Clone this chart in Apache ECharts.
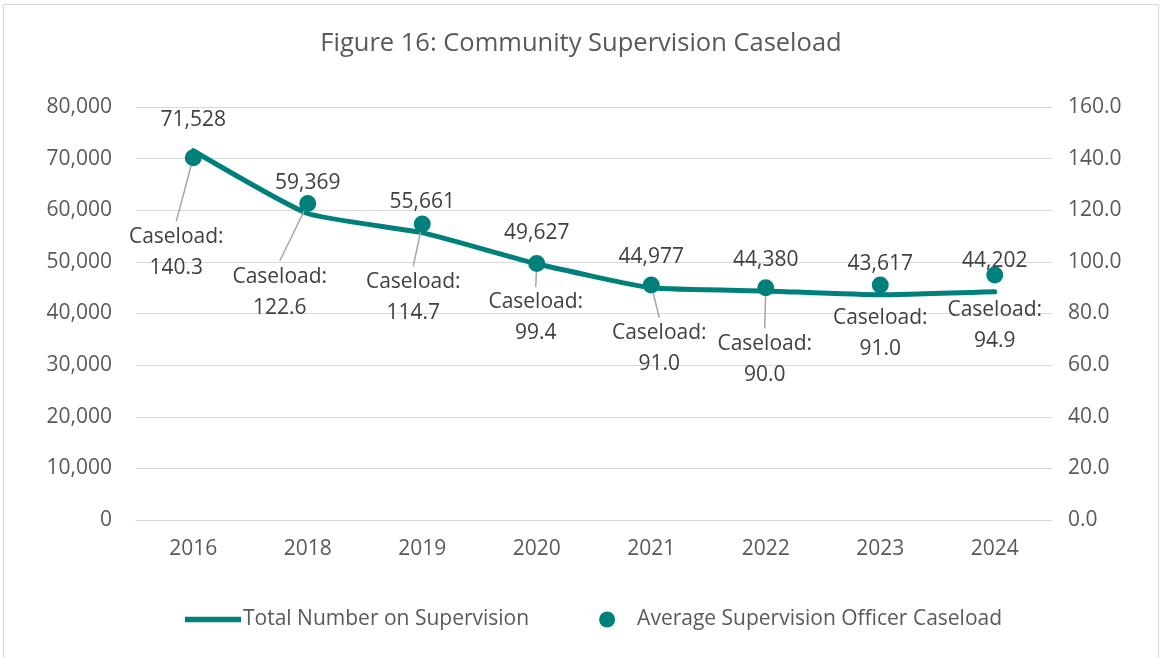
<!DOCTYPE html>
<html>
<head>
<meta charset="utf-8">
<script src="https://cdn.jsdelivr.net/npm/echarts@6/dist/echarts.min.js"></script>
<style>
  html, body { margin: 0; padding: 0; background: #fff; }
  #content { width: 1162px; height: 658px; }
</style>
</head>
<body>
<div id="content"></div>
<script>
// data
var years = ['2016', '2018', '2019', '2020', '2021', '2022', '2023', '2024'];
var totalSupervision = [71528, 59369, 55661, 49627, 44977, 44380, 43617, 44202];
var avgCaseload = [140.3, 122.6, 114.7, 99.4, 91.0, 90.0, 91.0, 94.9];

// where the caseload labels sit relative to their dot (dx, dy), and whether a leader line is drawn
var caseloadLabelShift = [[-17, 50], [-28, 44], [-9, 29], [-1, 10], [8, 19], [-1, 27], [0, 4], [0, 6]];
var caseloadLeader = [true, true, true, true, true, true, false, false];

var teal = '#00807a';
var grey = '#595959';
var font = '"Open Sans", sans-serif';

var myChart = echarts.init(document.getElementById('content'));

var option = {
    textStyle: { fontFamily: font },
    title: {
        text: 'Figure 16: Community Supervision Caseload',
        left: 'center',
        top: 26,
        textStyle: { fontFamily: font, fontSize: 25.5, fontWeight: 'normal', color: grey }
    },
    graphic: [{
        type: 'rect',
        shape: { x: 3.5, y: 4.5, width: 1155, height: 1000 },
        style: { fill: 'none', stroke: '#d9d9d9', lineWidth: 1 },
        silent: true
    }],
    legend: {
        bottom: 23,
        left: 180,
        itemGap: 70,
        itemWidth: 56,
        itemHeight: 16,
        textStyle: { fontFamily: font, fontSize: 21, color: grey, padding: [0, 0, 0, -3] },
        data: [
            { name: 'Total Number on Supervision', icon: 'path://M0,0 L10,0 L10,1 L0,1 Z' },
            { name: 'Average Supervision Officer Caseload', icon: 'circle' }
        ]
    },
    grid: {
        left: 136,
        right: 110,
        top: 107,
        bottom: 138
    },
    xAxis: {
        type: 'category',
        data: years,
        axisTick: { show: false },
        axisLine: { lineStyle: { color: '#d9d9d9', width: 1 } },
        axisLabel: { color: grey, fontSize: 21, margin: 19, fontFamily: font }
    },
    yAxis: [
        {
            type: 'value',
            min: 0,
            max: 80000,
            interval: 10000,
            axisLine: { show: false },
            axisTick: { show: false },
            splitLine: { lineStyle: { color: '#d9d9d9', width: 1 } },
            axisLabel: {
                color: grey, fontSize: 21, margin: 24, fontFamily: font,
                formatter: function (v) { return v.toLocaleString('en-US'); }
            }
        },
        {
            type: 'value',
            min: 0,
            max: 160,
            interval: 20,
            position: 'right',
            axisLine: { show: false },
            axisTick: { show: false },
            splitLine: { show: false },
            axisLabel: {
                color: grey, fontSize: 21, margin: 16, fontFamily: font,
                formatter: function (v) { return v.toFixed(1); }
            }
        }
    ],
    series: [
        {
            name: 'Total Number on Supervision',
            type: 'line',
            yAxisIndex: 0,
            data: totalSupervision,
            smooth: 0.15,
            showSymbol: true,
            symbol: 'circle',
            symbolSize: 0,
            color: teal,
            lineStyle: { width: 5, color: teal, cap: 'round' },
            label: {
                show: true,
                position: 'top',
                distance: 20,
                fontSize: 21,
                color: '#404040',
                fontFamily: font,
                formatter: function (p) { return p.value.toLocaleString('en-US'); }
            },
            z: 3
        },
        {
            name: 'Average Supervision Officer Caseload',
            type: 'scatter',
            yAxisIndex: 1,
            data: avgCaseload.map(function (v, i) {
                return { value: v, labelLine: { show: caseloadLeader[i] } };
            }),
            symbolSize: 17,
            color: teal,
            itemStyle: { color: teal, opacity: 1 },
            label: {
                show: true,
                position: 'bottom',
                distance: 5,
                fontSize: 21,
                lineHeight: 31,
                color: '#404040',
                fontFamily: font,
                align: 'center',
                formatter: function (p) { return 'Caseload:\n' + p.value.toFixed(1); }
            },
            labelLine: {
                show: true,
                lineStyle: { color: '#a6a6a6', width: 1.5 }
            },
            labelLayout: function (params) {
                var s = caseloadLabelShift[params.dataIndex];
                return { dx: s[0], dy: s[1] };
            },
            z: 4
        }
    ]
};

myChart.setOption(option);
</script>
</body>
</html>
